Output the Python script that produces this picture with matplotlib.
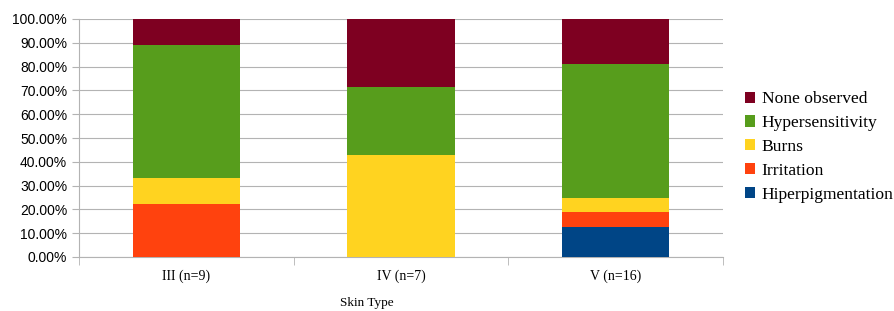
import numpy as np
import matplotlib.pyplot as plt
from matplotlib.font_manager import FontProperties
from matplotlib.ticker import PercentFormatter, FixedLocator

# Data (percent of patients per skin type)
categories = ['III (n=9)', 'IV (n=7)', 'V (n=16)']
hiperpigmentation = [0.0, 0.0, 12.5]
irritation = [22.22, 0.0, 6.25]
burns = [11.11, 42.86, 6.25]
hypersensitivity = [55.56, 28.57, 56.25]
none_observed = [11.11, 28.57, 18.75]

series = [
    ('Hiperpigmentation', hiperpigmentation, '#004586'),
    ('Irritation', irritation, '#ff420e'),
    ('Burns', burns, '#ffd320'),
    ('Hypersensitivity', hypersensitivity, '#579d1c'),
    ('None observed', none_observed, '#7e0021'),
]

fig = plt.figure(figsize=(8.95, 3.11), dpi=100)
ax = fig.add_axes([79/895, 1 - 257/311, (723 - 79)/895, (257 - 19)/311])

x = np.arange(len(categories))
bottom = np.zeros(len(categories))
handles = []
for name, vals, color in series:
    b = ax.bar(x, vals, width=0.5, bottom=bottom, color=color, label=name, zorder=3)
    handles.append(b)
    bottom += np.array(vals)

ax.set_xlim(-0.5, 2.5)
ax.set_ylim(0, 100)
ax.set_yticks(np.arange(0, 101, 10))
ax.yaxis.set_major_formatter(PercentFormatter(decimals=2))
ax.grid(axis='y', color='#b3b3b3', linewidth=0.8, zorder=0)

for s in ['top', 'right']:
    ax.spines[s].set_visible(False)
ax.spines['left'].set_color('#b3b3b3')
ax.spines['bottom'].set_color('#b3b3b3')

ax.set_xticks(x)
ax.set_xticklabels(categories, fontfamily='Liberation Serif', fontsize=10)
ax.tick_params(axis='x', length=0, pad=9)
ax.xaxis.set_minor_locator(FixedLocator([-0.5, 0.5, 1.5, 2.5]))
ax.tick_params(axis='x', which='minor', length=6, color='#b3b3b3')
ax.tick_params(axis='y', length=5, color='#b3b3b3', labelsize=10)
for lbl in ax.get_yticklabels():
    lbl.set_fontfamily('Liberation Sans')

fig.text(367/895, 1 - 303/311, 'Skin Type', ha='center', va='center',
         fontfamily='Liberation Serif', fontsize=9.5)

legend_font = FontProperties(family=['Liberation Serif'], size=12.6)
leg = fig.legend(handles[::-1], [s[0] for s in series][::-1],
                 loc='center left', bbox_to_anchor=(745/895, 1 - 147/311),
                 frameon=False, prop=legend_font,
                 handlelength=0.6, handleheight=0.6, handletextpad=0.35,
                 labelspacing=0.45, borderaxespad=0, borderpad=0)

fig.savefig('out.png', dpi=100)
